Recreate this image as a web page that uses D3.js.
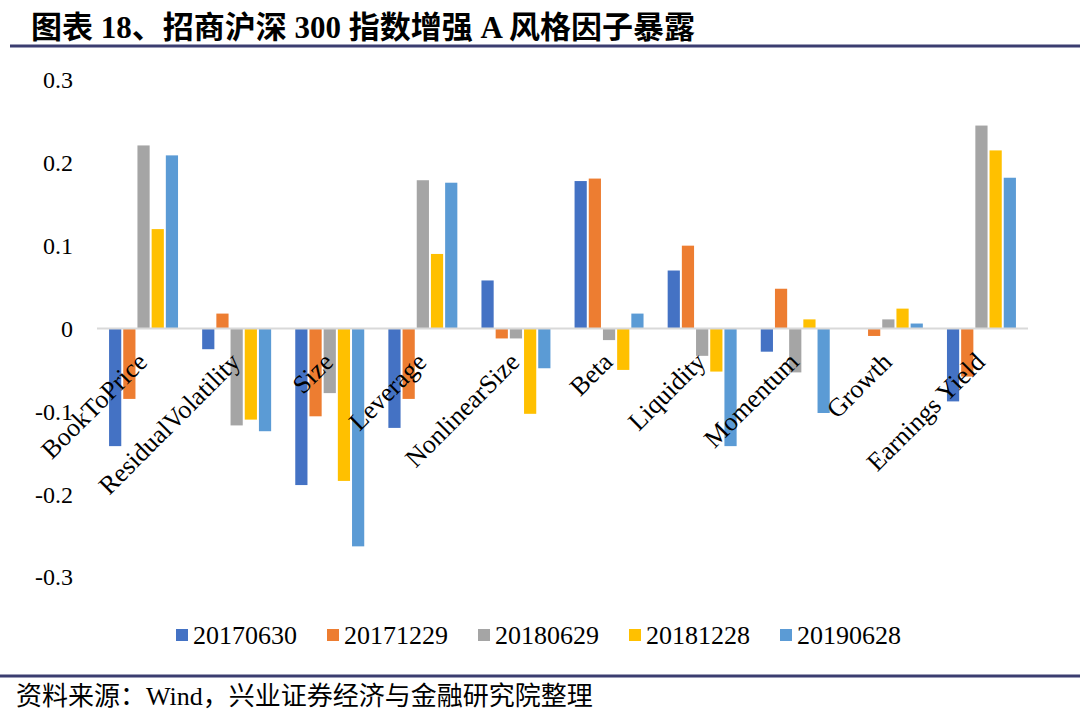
<!DOCTYPE html>
<html>
<head>
<meta charset="utf-8">
<script src="https://cdn.jsdelivr.net/npm/d3@7"></script>
<style>
  html, body { margin: 0; padding: 0; background: #fff; }
  svg { display: block; }
</style>
</head>
<body>
<div id="chart"></div>
<script>
// ---- data ----
const categories = ["BookToPrice", "ResidualVolatility", "Size", "Leverage", "NonlinearSize", "Beta", "Liquidity", "Momentum", "Growth", "Earnings Yield"];
const seriesNames = ["20170630", "20171229", "20180629", "20181228", "20190628"];
const s20170630 = [-0.142, -0.025, -0.189, -0.120, 0.058, 0.178, 0.070, -0.028, 0.000, -0.088];
const s20171229 = [-0.085, 0.018, -0.106, -0.085, -0.012, 0.181, 0.100, 0.048, -0.009, -0.058];
const s20180629 = [0.221, -0.117, -0.078, 0.179, -0.012, -0.014, -0.033, -0.053, 0.011, 0.245];
const s20181228 = [0.120, -0.110, -0.184, 0.090, -0.103, -0.050, -0.052, 0.011, 0.024, 0.215];
const s20190628 = [0.209, -0.124, -0.263, 0.176, -0.048, 0.018, -0.142, -0.102, 0.006, 0.182];
const yTicks = [0.3, 0.2, 0.1, 0, -0.1, -0.2, -0.3];
const colors = ["#4472C4", "#ED7D31", "#A5A5A5", "#FFC000", "#5B9BD5"];
const titleText = "图表 18、招商沪深 300 指数增强 A 风格因子暴露";
const sourceText = "资料来源：Wind，兴业证券经济与金融研究院整理";

const seriesValues = [s20170630, s20171229, s20180629, s20181228, s20190628];

// ---- layout ----
const W = 1080, H = 717;
const serif = "'Liberation Serif', 'Times New Roman', 'Noto Sans CJK SC', serif";
const svg = d3.select("#chart").append("svg").attr("width", W).attr("height", H);
svg.append("rect").attr("width", W).attr("height", H).attr("fill", "#fff");

// title
svg.append("text").attr("x", 31).attr("y", 38)
  .attr("font-family", serif).attr("font-weight", "bold").attr("font-size", 31)
  .attr("fill", "#000").text(titleText);
svg.append("line").attr("x1", 10).attr("x2", W).attr("y1", 46).attr("y2", 46)
  .attr("stroke", "#3b3d70").attr("stroke-width", 3);

// footer
svg.append("line").attr("x1", 0).attr("x2", W).attr("y1", 676).attr("y2", 676)
  .attr("stroke", "#3b3d70").attr("stroke-width", 3);
svg.append("text").attr("x", 16).attr("y", 705)
  .attr("font-family", serif).attr("font-size", 26)
  .attr("fill", "#000").text(sourceText);

// scales
const x0 = d3.scaleBand().domain(categories).range([97, 1028]).padding(0);
const x1 = d3.scaleBand().domain(seriesNames).range([0, x0.bandwidth()])
  .paddingInner(0.14).paddingOuter(0.85);
const y = d3.scaleLinear().domain([-0.3, 0.3]).range([577, 80]);

// y tick labels
svg.append("g").selectAll("text").data(yTicks).join("text")
  .attr("x", 73).attr("y", d => y(d)).attr("dy", "0.35em")
  .attr("text-anchor", "end")
  .attr("font-family", serif).attr("font-size", 24).attr("fill", "#000")
  .text(d => String(d));

// bars
const barG = svg.append("g");
seriesNames.forEach((s, si) => {
  barG.append("g").selectAll("rect").data(categories.map((c, i) => ({c, v: seriesValues[si][i]})))
    .join("rect")
    .attr("x", d => x0(d.c) + x1(s))
    .attr("width", x1.bandwidth())
    .attr("y", d => Math.min(y(d.v), y(0)))
    .attr("height", d => Math.abs(y(d.v) - y(0)))
    .attr("fill", colors[si]);
});

// zero line
svg.append("line").attr("x1", x0.range()[0]).attr("x2", x0.range()[1])
  .attr("y1", y(0)).attr("y2", y(0))
  .attr("stroke", "#d9d9d9").attr("stroke-width", 2);

// category labels
svg.append("g").selectAll("text").data(categories).join("text")
  .attr("transform", d => `translate(${x0(d) + x0.bandwidth() / 2 + 5},${y(0) + 35}) rotate(-45)`)
  .attr("text-anchor", "end")
  .attr("font-family", serif).attr("font-size", 26).attr("fill", "#000")
  .text(d => d);

// legend
const legend = svg.append("g");
seriesNames.forEach((s, i) => {
  const lx = 176 + i * 151;
  legend.append("rect").attr("x", lx).attr("y", 629).attr("width", 12).attr("height", 12)
    .attr("fill", colors[i]);
  legend.append("text").attr("x", lx + 17).attr("y", 635).attr("dy", "0.35em")
    .attr("font-family", serif).attr("font-size", 26).attr("fill", "#000").text(s);
});
</script>
</body>
</html>
